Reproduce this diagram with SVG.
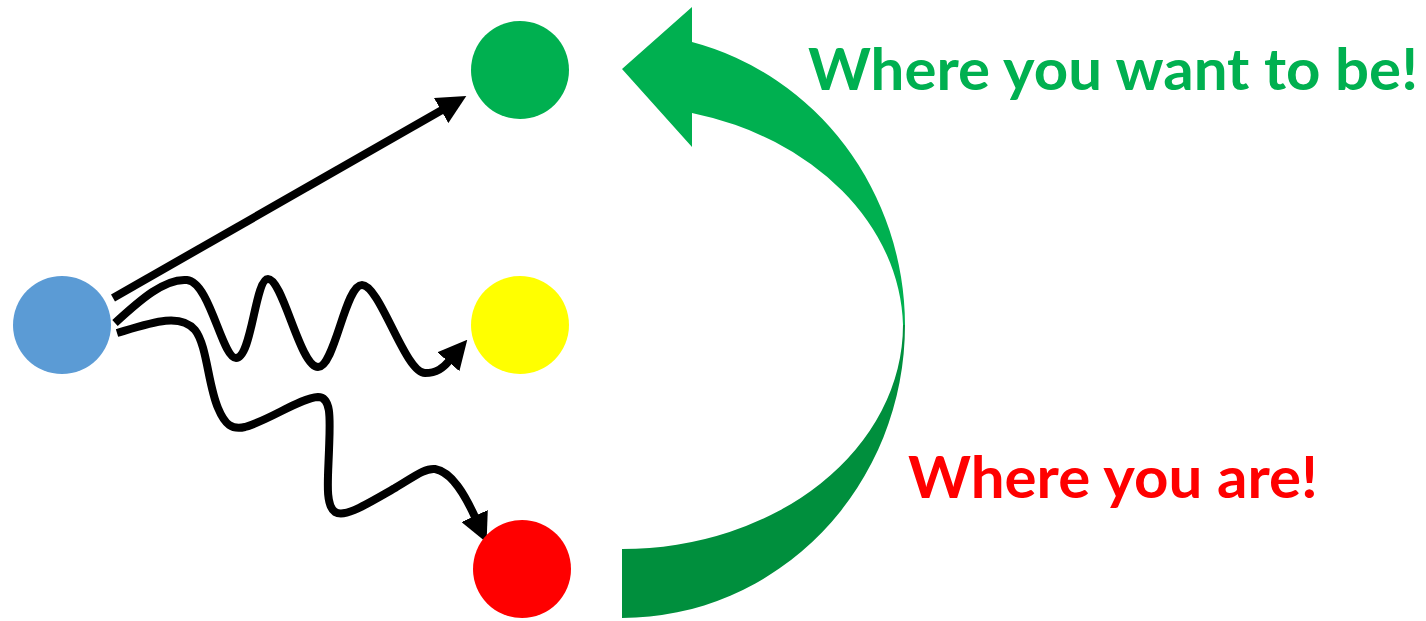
<svg xmlns="http://www.w3.org/2000/svg" width="1426" height="621" viewBox="0 0 1426 621">
<style>
.conn{fill:none;stroke:#000;stroke-width:8}
.lbl{font-family:Lato,"Open Sans","Liberation Sans",sans-serif;font-weight:700;font-size:58px}
</style>
<defs>
<marker id="ah" viewBox="0 0 29 29" refX="1" refY="14.5" markerWidth="29" markerHeight="29" markerUnits="userSpaceOnUse" orient="auto">
<path d="M0,0 L29,14.5 L0,29 Z" fill="#000"/>
</marker>
</defs>
<rect width="1426" height="621" fill="#fff"/>
<g id="curved-arrow">
<path d="M692,42 A283,293 0 0 1 905,325 L903,325 A281,224 0 0 0 692,113 L692,147 L622,69 L692,7 Z" fill="#00B050"/>
<path d="M905,325 A283,293 0 0 1 622,618 L622,549 A281,224 0 0 0 903,325 Z" fill="#008F3D"/>
</g>
<g id="connectors">
<path class="conn" d="M113,298 L442,110" marker-end="url(#ah)"/>
<path class="conn" d="M115,323 C140,300 165,278 187,280 C210,282 222,358 236,358 C252,358 255,279 268,279 C283,279 300,367 318,367 C335,367 345,285 362,285 C380,285 405,373 425,373 C437,373 443,368 449,361" marker-end="url(#ah)"/>
<path class="conn" d="M117,333 C150,323 180,312 195,330 C207,345 208,385 218,408 C225,425 232,430 245,427 C270,420 300,398 318,397 C332,397 330,420 329,450 C328,480 325,505 335,512 C345,518 365,505 395,488 C415,476 425,468 435,469 C452,472 465,495 475,517" marker-end="url(#ah)"/>
</g>
<g id="start"><circle cx="62" cy="325" r="49" fill="#5B9BD5"/></g>
<g id="goal"><circle cx="520" cy="70" r="49" fill="#00B050"/></g>
<g id="middle"><circle cx="520" cy="325" r="49" fill="#FFFF00"/></g>
<g id="current"><circle cx="522" cy="569" r="49" fill="#FF0000"/></g>
<g id="label-goal"><text class="lbl" x="808" y="90" fill="#00B050" textLength="610" lengthAdjust="spacingAndGlyphs">Where you want to be!</text></g>
<g id="label-current"><text class="lbl" x="908" y="498" fill="#FF0000" textLength="410" lengthAdjust="spacingAndGlyphs">Where you are!</text></g>
</svg>
